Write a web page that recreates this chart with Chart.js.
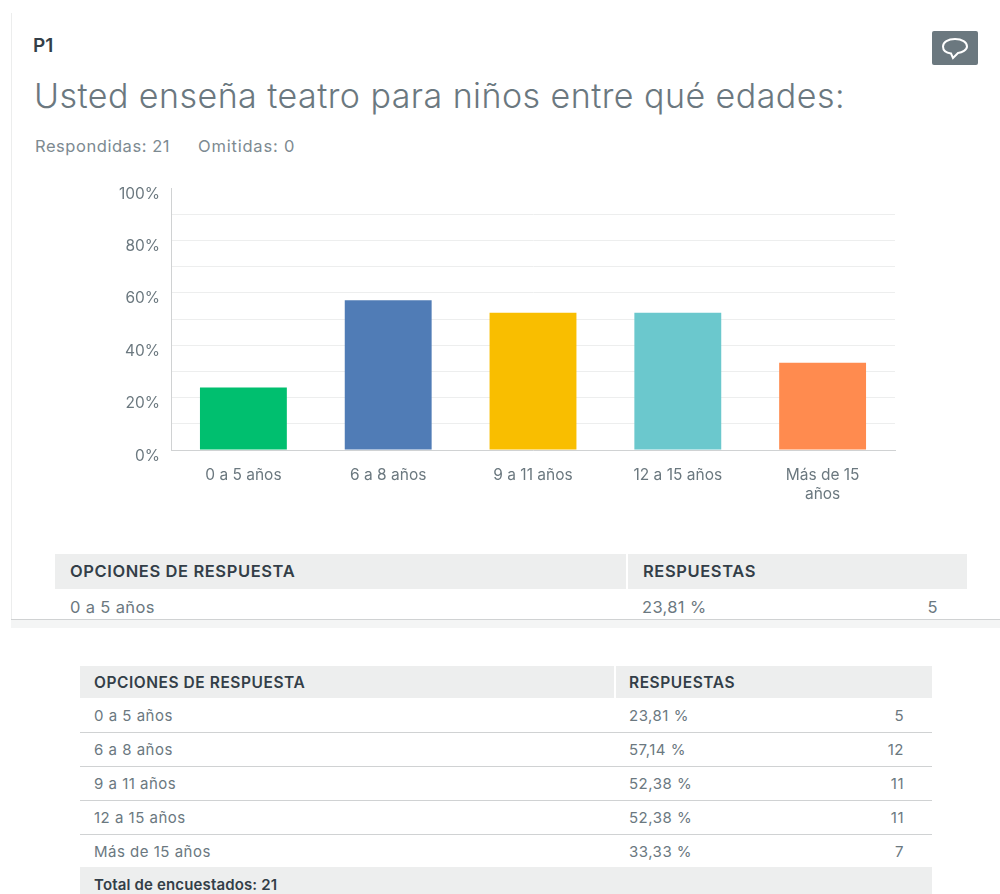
<!DOCTYPE html>
<html><head><meta charset="utf-8">
<style>
html,body{margin:0;padding:0;background:#fff;width:1000px;height:894px;overflow:hidden;font-family:Inter,sans-serif;color:#333e48}
#stage{position:relative;width:1000px;height:894px}
.a{position:absolute;white-space:nowrap}
#cw{position:absolute;left:0;top:170px;width:1000px;height:340px}
</style>
<script src="https://cdn.jsdelivr.net/npm/chart.js@4"></script>
</head><body><div id="stage">
<div class="a" style="left:11px;top:13px;width:1px;height:607px;background:#eceded"></div>
<div class="a" style="left:11px;top:619px;width:989px;height:1px;background:#d0d2d3"></div>
<div class="a" style="left:11px;top:620px;width:989px;height:8px;background:#f4f5f5"></div>
<div class="a" style="left:33px;top:36px;font-size:19px;line-height:20px;font-weight:600;color:#333e48">P1</div>
<div class="a" style="left:34px;top:75px;font-size:34px;line-height:42px;font-weight:300;letter-spacing:.45px;color:#6b787f">Usted enseña teatro para niños entre qué edades:</div>
<div class="a" style="left:35px;top:136px;font-size:16.5px;line-height:20px;letter-spacing:.55px;color:#7d8a91">Respondidas: 21</div>
<div class="a" style="left:198px;top:136px;font-size:16.5px;line-height:20px;letter-spacing:.8px;color:#7d8a91">Omitidas: 0</div>
<div class="a" style="left:932px;top:31px;width:46px;height:34px;background:#6b787f;border-radius:2px"></div>
<svg class="a" style="left:932px;top:31px" width="46" height="34"><path d="M23 8c-7 0-12 3-12 7.500s4 6.500 8 7l2 4.500 5-5c4-.5 9-3 9-6.500 0-4.500-5-7.500-12-7.500z" fill="none" stroke="#fff" stroke-width="2"/></svg>
<div id="cw"><canvas id="c" width="1000" height="340"></canvas></div>
<div id="t"></div>
</div>
<script>
const categories=["0 a 5 años","6 a 8 años","9 a 11 años","12 a 15 años",["Más de 15","años"]];
const rowLabels=["0 a 5 años","6 a 8 años","9 a 11 años","12 a 15 años","Más de 15 años"];
const percents=[23.81,57.14,52.38,52.38,33.33];
const percentLabels=["23,81 %","57,14 %","52,38 %","52,38 %","33,33 %"];
const counts=[5,12,11,11,7];
const barColors=["#00bf6f","#507cb6","#f9be00","#6bc8cd","#ff8b4f"];
const yTicks=[0,20,40,60,80,100];
const gridTicks=[0,10,20,30,40,50,60,70,80,90,100];

new Chart(document.getElementById('c'),{
 type:'bar',
 data:{labels:categories,datasets:[{data:percents,backgroundColor:barColors,borderWidth:0,categoryPercentage:.6,barPercentage:1}]},
 options:{responsive:false,animation:false,
  layout:{padding:{left:0,right:105,top:18,bottom:0}},
  plugins:{legend:{display:false},tooltip:{enabled:false}},
  scales:{
   x:{afterFit(s){s.height=60;},grid:{display:false,drawTicks:false},border:{color:'#d0d2d3'},
      ticks:{color:'#6b787f',font:{family:'Inter',size:15.5,lineHeight:1.22},padding:16,maxRotation:0,autoSkip:false}},
   y:{min:0,max:100,afterFit(s){s.width=171;s.paddingTop=0;s.paddingBottom=0;},
      afterBuildTicks(s){s.ticks=gridTicks.map(v=>({value:v}));},
      grid:{color(c){return c.tick&&c.tick.value===100?'rgba(0,0,0,0)':'#edeeee';},drawTicks:false},border:{color:'#d0d2d3'},
      ticks:{color:'#6b787f',font:{family:'Inter',size:15.5},padding:11,labelOffset:6,autoSkip:false,
        callback(v){return yTicks.includes(v)?v+'%':'';}}}
  }
 }
});

const host=document.getElementById('t');
function add(html){host.insertAdjacentHTML('beforeend',html);}
function hdr(x,w,top,h,split,fs,ls,lx1,lx2,lh){
 add(`<div class="a" style="left:${x}px;top:${top}px;width:${w}px;height:${h}px;background:#edeeee"></div>`);
 add(`<div class="a" style="left:${split}px;top:${top}px;width:2px;height:${h}px;background:#fff"></div>`);
 add(`<div class="a" style="left:${lx1}px;top:${top}px;line-height:${lh}px;font-size:${fs}px;letter-spacing:${ls}px;font-weight:600;color:#333e48">OPCIONES DE RESPUESTA</div>`);
 add(`<div class="a" style="left:${lx2}px;top:${top}px;line-height:${lh}px;font-size:${fs}px;letter-spacing:${ls}px;font-weight:600;color:#333e48">RESPUESTAS</div>`);
}
hdr(55,912,554,35,626,16.5,.6,70,643,35);
const r1='top:597px;line-height:21px;font-size:16.5px;letter-spacing:.35px;color:#6b787f';
add(`<div class="a" style="left:70px;${r1}">${rowLabels[0]}</div>`);
add(`<div class="a" style="left:642px;${r1}">${percentLabels[0]}</div>`);
add(`<div class="a" style="right:62px;${r1}">${counts[0]}</div>`);
hdr(80,852,666,32,614,15.5,.55,94,629,34);
rowLabels.forEach((l,i)=>{
 const top=699+i*34;
 const st=`top:${top}px;line-height:34px;font-size:15px;letter-spacing:.5px;color:#6b787f`;
 add(`<div class="a" style="left:94px;${st}">${l}</div>`);
 add(`<div class="a" style="left:629px;${st}">${percentLabels[i]}</div>`);
 add(`<div class="a" style="right:96px;${st}">${counts[i]}</div>`);
 if(i<4)add(`<div class="a" style="left:80px;top:${top+33}px;width:852px;height:1px;background:#d0d2d3"></div>`);
});
add(`<div class="a" style="left:80px;top:867px;width:852px;height:27px;background:#edeeee"></div>`);
add(`<div class="a" style="left:94px;top:871px;line-height:27px;font-size:15px;letter-spacing:.15px;font-weight:600;color:#333e48">Total de encuestados: 21</div>`);
</script>
</body></html>
